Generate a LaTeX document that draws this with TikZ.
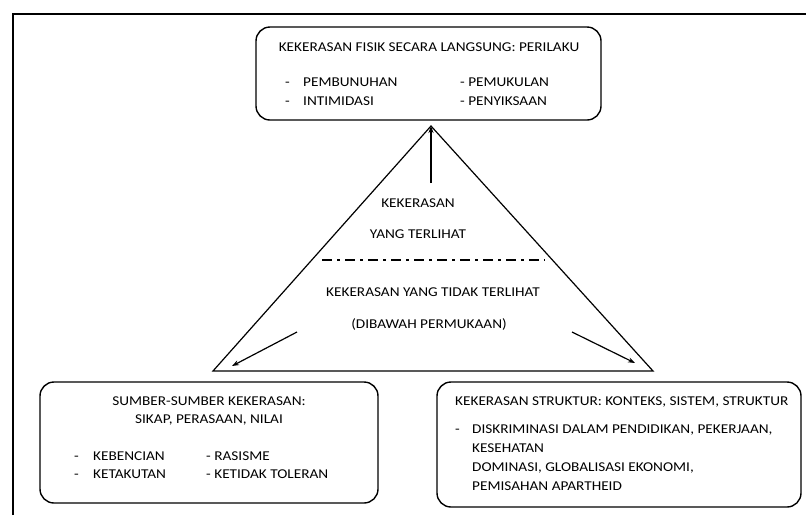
\documentclass[tikz,border=0pt]{standalone}
\usepackage{fontspec}
\setmainfont{Carlito}[FakeStretch=1.13]
\usetikzlibrary{arrows.meta}
\begin{document}
\begin{tikzpicture}[x=1pt,y=-1pt,
  txt/.style={inner sep=0pt,font=\fontsize{13.5}{15}\selectfont},
  lbox/.style={draw,line width=1.4pt,rounded corners=14pt},
  tri/.style={line width=1.2pt},
  arr/.style={line width=1.2pt,-{Stealth[length=7pt,width=5pt]}},
  dashdot/.style={line width=2pt,dash pattern=on 10pt off 5pt on 3pt off 5pt}]
\useasboundingbox (0,0) rectangle (806,515);
% outer frame
\draw[line width=2.5pt] (13,515) -- (13,14) -- (806,14);
% boxes
\node[lbox,minimum width=345pt,minimum height=93pt] (top) at (428.5,73.5) {};
\node[lbox,minimum width=338pt,minimum height=121pt] (lb) at (209,442.5) {};
\node[lbox,minimum width=364pt,minimum height=125pt] (rb) at (619,444.5) {};
% top box text
\node[txt,anchor=base] (t0) at (429,51) {KEKERASAN FISIK SECARA LANGSUNG: PERILAKU};
\node[txt,anchor=base west] (t1d) at (285,86) {-};
\node[txt,anchor=base west] (t1) at (303,86) {PEMBUNUHAN};
\node[txt,anchor=base west] (t2d) at (285,105) {-};
\node[txt,anchor=base west] (t2) at (303,105) {INTIMIDASI};
\node[txt,anchor=base west] (t3) at (460,86) {- PEMUKULAN};
\node[txt,anchor=base west] (t4) at (460,105) {- PENYIKSAAN};
% triangle
\coordinate (apex) at (431,126);
\coordinate (bl) at (213,371);
\coordinate (br) at (653,371);
\draw[tri] (bl) -- (apex) -- (br) -- cycle;
\coordinate (ua) at (431,183);
\draw[arr] (ua) -- (apex);
\coordinate (d1) at (322,260);
\coordinate (d2) at (545,260);
\draw[dashdot] (d1) -- (d2);
\node[txt,anchor=base] (k1) at (418,207) {KEKERASAN};
\node[txt,anchor=base] (k2) at (418,238) {YANG TERLIHAT};
\node[txt,anchor=base] (k3) at (433,296) {KEKERASAN YANG TIDAK TERLIHAT};
\node[txt,anchor=base] (k4) at (429,328) {(DIBAWAH PERMUKAAN)};
\coordinate (la0) at (297,332);
\coordinate (la1) at (232,366);
\draw[arr] (la0) -- (la1);
\coordinate (ra0) at (572,332);
\coordinate (ra1) at (635,363);
\draw[arr] (ra0) -- (ra1);
% left box text
\node[txt,anchor=base] (l0) at (209,405) {SUMBER-SUMBER KEKERASAN:};
\node[txt,anchor=base] (l1) at (209,423) {SIKAP, PERASAAN, NILAI};
\node[txt,anchor=base west] (l2d) at (74,460) {-};
\node[txt,anchor=base west] (l2) at (93,460) {KEBENCIAN};
\node[txt,anchor=base west] (l3d) at (74,478) {-};
\node[txt,anchor=base west] (l3) at (93,478) {KETAKUTAN};
\node[txt,anchor=base west] (l4) at (206,460) {- RASISME};
\node[txt,anchor=base west] (l5) at (206,478) {- KETIDAK TOLERAN};
% right box text
\node[txt,anchor=base west] (r0) at (455,405) {KEKERASAN STRUKTUR: KONTEKS, SISTEM, STRUKTUR};
\node[txt,anchor=base west] (r1d) at (455,433) {-};
\node[txt,anchor=base west] (r1) at (472,433) {DISKRIMINASI DALAM PENDIDIKAN, PEKERJAAN,};
\node[txt,anchor=base west] (r2) at (472,452) {KESEHATAN};
\node[txt,anchor=base west] (r3) at (472,471) {DOMINASI, GLOBALISASI EKONOMI,};
\node[txt,anchor=base west] (r4) at (472,490) {PEMISAHAN APARTHEID};
\end{tikzpicture}
\end{document}
